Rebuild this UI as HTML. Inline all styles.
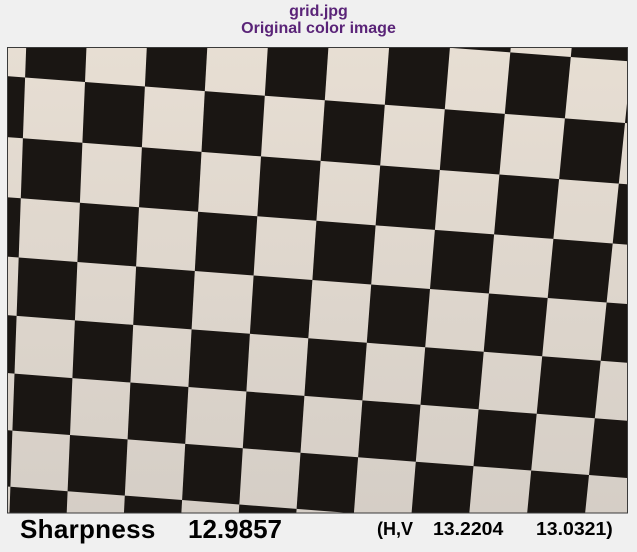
<!DOCTYPE html>
<html>
<head>
<meta charset="utf-8">
<style>
  html,body{margin:0;padding:0;background:#f0f0f0;width:637px;height:552px;overflow:hidden;}
  body{position:relative;font-family:"Liberation Sans",Arial,sans-serif;}
  .t{position:absolute;white-space:nowrap;font-weight:bold;line-height:1.1;}
  .title{left:0;width:637px;text-align:center;color:#5a2478;font-size:16px;}
</style>
</head>
<body>
<div class="t title" style="top:3px;">grid.jpg</div>
<div class="t title" style="top:20px;">Original color image</div>

<svg id="img" width="637" height="515" style="position:absolute;left:0;top:0;display:block;overflow:hidden;">
  <defs>
    <linearGradient id="lg" x1="0" y1="0" x2="0" y2="1">
      <stop offset="0" stop-color="#e7ded3"/>
      <stop offset="1" stop-color="#d5cec6"/>
    </linearGradient>
    <clipPath id="cp"><rect x="7" y="48" width="620" height="465"/></clipPath>
  </defs>
  <rect x="7" y="48" width="620" height="465" fill="url(#lg)"/>
  <g id="cells" clip-path="url(#cp)"></g>
  <rect x="7.5" y="47.5" width="620" height="465.5" fill="none" stroke="#3a3a3a" stroke-width="1"/>
</svg>

<div class="t" style="left:20px;top:515px;font-size:26px;color:#000;letter-spacing:0.3px;">Sharpness</div>
<div class="t" style="left:188px;top:515px;font-size:26px;color:#000;">12.9857</div>
<div class="t" style="left:377px;top:520px;font-size:18px;color:#000;">(H,V</div>
<div class="t" style="left:433px;top:520px;font-size:18px;color:#000;transform:scaleX(1.08);transform-origin:left;">13.2204</div>
<div class="t" style="left:536px;top:520px;font-size:18px;color:#000;transform:scaleX(1.08);transform-origin:left;">13.0321)</div>

<script>
const Q = [[85,82],[625,123],[589,475],[70,435]]; // (0,-3),(9,-3),(9,3),(0,3)
const I0=0, I1=9, J0=-3, J1=3;
function homog(q){
  const [x0,y0]=q[0],[x1,y1]=q[1],[x2,y2]=q[2],[x3,y3]=q[3];
  const dx1=x1-x2, dx2=x3-x2, dy1=y1-y2, dy2=y3-y2;
  const sx=x0-x1+x2-x3, sy=y0-y1+y2-y3;
  const den=dx1*dy2-dx2*dy1;
  const g=(sx*dy2-dx2*sy)/den, h=(dx1*sy-sx*dy1)/den;
  const a=x1-x0+g*x1, b=x3-x0+h*x3, c=x0;
  const d=y1-y0+g*y1, e=y3-y0+h*y3, f=y0;
  return (u,v)=>{const w=g*u+h*v+1;return [(a*u+b*v+c)/w,(d*u+e*v+f)/w];};
}
const H = homog(Q);
const P = (i,j)=>H((i-I0)/(I1-I0),(j-J0)/(J1-J0));
const g = document.getElementById('cells');
for(let j=-5;j<=4;j++){
  for(let i=-2;i<=9;i++){
    if(((i+j)%2+2)%2!==1) continue;
    const pts=[P(i,j),P(i+1,j),P(i+1,j+1),P(i,j+1)].map(p=>p[0].toFixed(1)+','+p[1].toFixed(1)).join(' ');
    const el=document.createElementNS('http://www.w3.org/2000/svg','polygon');
    el.setAttribute('points',pts);
    el.setAttribute('fill','#1a1613');
    
    
    g.appendChild(el);
  }
}
</script>
</body>
</html>
